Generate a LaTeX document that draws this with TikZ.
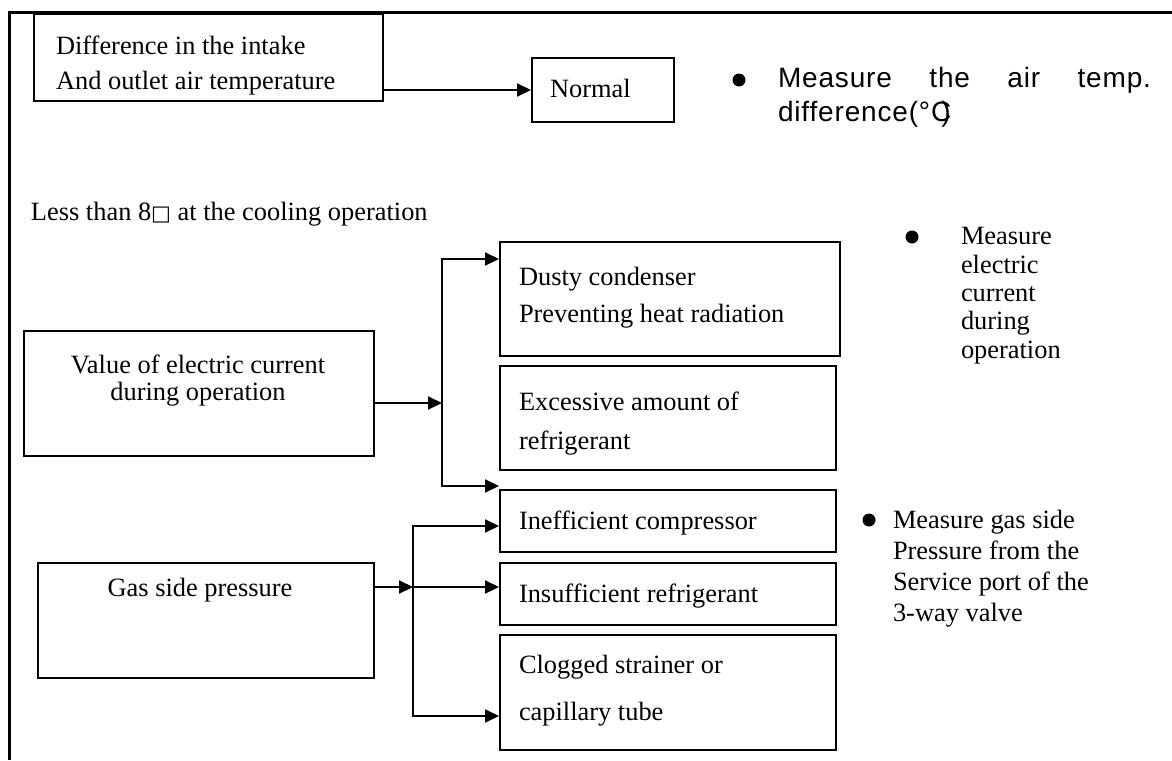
\documentclass[tikz,border=0pt]{standalone}
\usepackage{fontspec}
\setmainfont{Liberation Serif}
\setsansfont{Liberation Sans}
\newfontfamily\widesans[LetterSpace=3]{Liberation Sans}
\newfontfamily\symfont{DejaVu Sans}
\usepackage{tikz}
\usetikzlibrary{positioning,arrows.meta}

\begin{document}
\begin{tikzpicture}[x=0.5pt, y=-0.5pt, line width=1pt,
    every node/.style={font=\fontsize{13.2}{17.5}\selectfont},
    box/.style={draw, rectangle, anchor=north west, inner sep=0pt},
    txt/.style={anchor=north west, inner sep=0pt, align=left},
    ctxt/.style={anchor=north, inner sep=0pt, align=center},
    dot/.style={circle, fill, inner sep=0pt, minimum size=6.5pt},
    arr/.style={-{Triangle[length=7pt,width=6.5pt]}}]
    \useasboundingbox (0,0) rectangle (1172,760);
    \draw[line width=1.5pt] (9,760) -- (9,12) -- (1172,12);

    \node[box, minimum width=174.5pt, minimum height=43.5pt] (diff) at (33,13) {};
    \node[box, minimum width=71pt, minimum height=32pt] (normal) at (531,57) {};
    \node[box, minimum width=175pt, minimum height=62.5pt] (value) at (23,330) {};
    \node[box, minimum width=170pt, minimum height=57pt] (dusty) at (499,241) {};
    \node[box, minimum width=168pt, minimum height=52pt] (excess) at (499,365) {};
    \node[box, minimum width=168pt, minimum height=31pt] (ineff) at (499,489) {};
    \node[box, minimum width=168pt, minimum height=31pt] (insuff) at (499,562) {};
    \node[box, minimum width=168pt, minimum height=57.5pt] (clog) at (499,634) {};
    \node[box, minimum width=168pt, minimum height=57.5pt] (gas) at (37,562) {};

    \node[txt] (diff-t) at (55,34.5) {Difference in the intake\\And outlet air temperature};
    \node[txt] (normal-t) at (549,78.5) {Normal};
    \node[txt] (less) at (30,201.5) {Less than 8{\symfont\fontsize{10.5}{12}\selectfont □} at the cooling operation};
    \node[txt, font=\fontsize{13.2}{18.5}\selectfont] (dusty-t) at (518,266.5) {Dusty condenser\\Preventing heat radiation};
    \node[txt, font=\fontsize{13.2}{19.5}\selectfont] (excess-t) at (518,390.5) {Excessive amount of\\refrigerant};
    \node[ctxt, font=\fontsize{13.2}{13.5}\selectfont] (value-t) at (198,353.5) {Value of electric current\\during operation};
    \node[txt] (ineff-t) at (518,509.5) {Inefficient compressor};
    \node[txt] (insuff-t) at (518,582.5) {Insufficient refrigerant};
    \node[txt, font=\fontsize{13.2}{23.5}\selectfont] (clog-t) at (518,654.5) {Clogged strainer or\\capillary tube};
    \node[ctxt] (gas-t) at (200,577.5) {Gas side pressure};

    \node[dot] (b1) at (739,80) {};
    \node[txt, font=\widesans\fontsize{14}{17}\selectfont] (m1) at (777,66.5) {\makebox[186.5pt][s]{Measure the air temp.}\\difference(°C\kern-0.35em)};
    \node[dot] (b2) at (912,237) {};
    \node[txt, font=\fontsize{13.2}{14.2}\selectfont] (m2) at (960,226.5) {Measure\\electric\\current\\during\\operation};
    \node[dot] (b3) at (869,520) {};
    \node[txt, font=\fontsize{13.2}{15.5}\selectfont] (m3) at (892,509.5) {Measure gas side\\Pressure from the\\Service port of the\\3-way valve};

    \draw[arr] (diff.east |- normal.west) -- (normal.west);

    \coordinate (j1) at (442,403);
    \coordinate (t1) at (442,259);
    \coordinate (t2) at (442,486);
    \draw[arr] (value.east |- j1) -- (j1);
    \draw[arr] (j1) -- (t1) -- (dusty.west |- t1);
    \draw[arr] (j1) -- (t2) -- (ineff.west |- t2);

    \coordinate (j2) at (413,587);
    \coordinate (u1) at (413,526);
    \coordinate (u2) at (413,716);
    \draw[arr] (gas.east |- j2) -- (j2);
    \draw[arr] (j2) -- (u1) -- (ineff.west |- u1);
    \draw[arr] (j2) -- (insuff.west |- j2);
    \draw[arr] (j2) -- (u2) -- (clog.west |- u2);
\end{tikzpicture}
\end{document}
